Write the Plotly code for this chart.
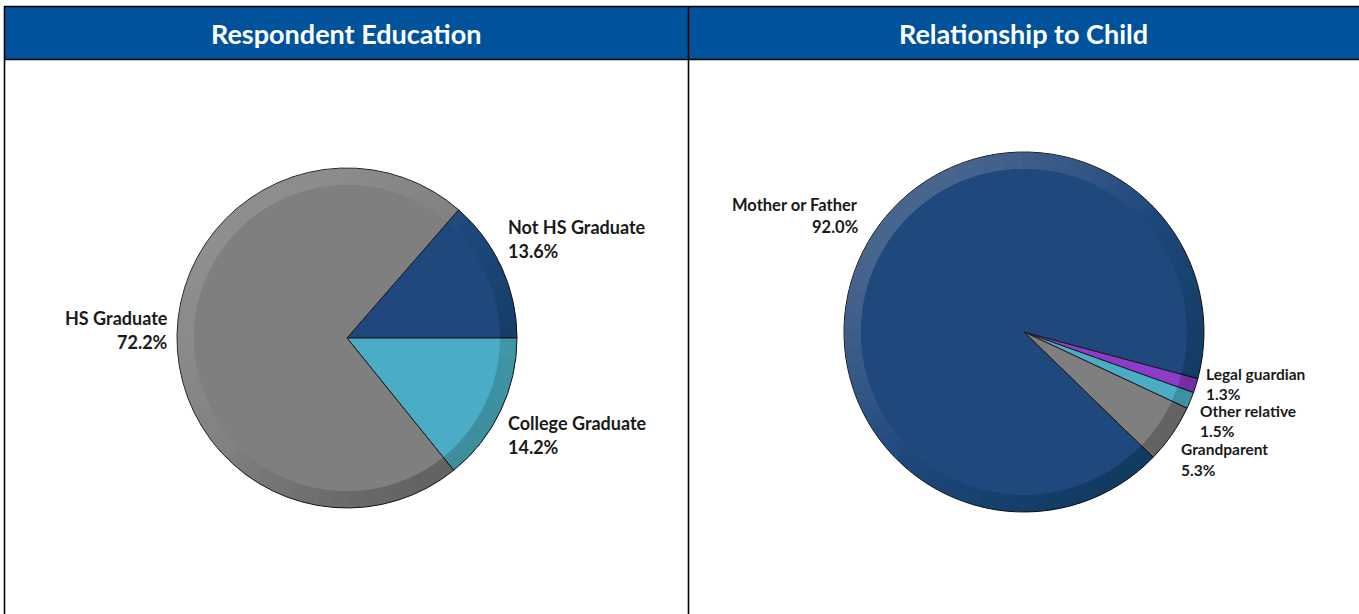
import numpy as np
import plotly.graph_objects as go

W, H = 1359, 614

# ---- data -------------------------------------------------------------
titles = ["Respondent Education", "Relationship to Child"]

edu_labels = ["Not HS Graduate", "College Graduate", "HS Graduate"]
edu_values = [13.6, 14.2, 72.2]
edu_colors = ["#1F497D", "#4BACC6", "#7F7F7F"]

rel_labels = ["Legal guardian", "Other relative", "Grandparent", "Mother or Father"]
rel_values = [1.3, 1.5, 5.3, 92.0]
rel_colors = ["#8C3CC8", "#4BACC6", "#7F7F7F", "#1F497D"]

# ---- layout helpers (pixel -> paper) ------------------------------------
def px(x):
    return x / W


def py(y):
    return 1 - y / H


HEADER_BLUE = "#00539B"
FONT = "Lato"

# pie centres / radii in pixels
pies = [
    dict(cx=347, cy=338, r=170),
    dict(cx=1024, cy=332, r=180),
]

fig = go.Figure()


def add_pie(labels, values, colors, geo, rotation):
    cx, cy, r = geo["cx"], geo["cy"], geo["r"]
    fig.add_trace(go.Pie(
        labels=labels,
        values=values,
        sort=False,
        direction="clockwise",
        rotation=rotation,
        marker=dict(colors=colors, line=dict(color="#1a1a1a", width=1)),
        textinfo="none",
        hoverinfo="label+percent",
        showlegend=False,
        domain=dict(x=[px(cx - r), px(cx + r)], y=[py(cy + r), py(cy - r)]),
    ))


# first education slice ends at 3 o'clock
edu_rot = 90 - 360 * edu_values[0] / sum(edu_values)
add_pie(edu_labels, edu_values, edu_colors, pies[0], edu_rot)
# small relationship slices start just below 3 o'clock
add_pie(rel_labels, rel_values, rel_colors, pies[1], 105)

shapes = []


def arc_band(cx, cy, r_out, r_in, a_mid, half, fill):
    """Closed annular band centred on angle a_mid (radians) with half-width half."""
    angs = np.linspace(a_mid - half, a_mid + half, max(8, int(half * 60)))
    outer = [(cx + r_out * np.cos(a), cy - r_out * np.sin(a)) for a in angs]
    inner = [(cx + r_in * np.cos(a), cy - r_in * np.sin(a)) for a in angs[::-1]]
    pts = outer + inner
    path = "M " + " L ".join(f"{px(x):.5f},{py(y):.5f}" for x, y in pts) + " Z"
    return dict(type="path", path=path, xref="paper", yref="paper",
                fillcolor=fill, line=dict(width=0), layer="above")


# bevel rim: nested translucent bands, lighter to the upper-left and
# darker to the lower-right
def rim_shapes(cx, cy, r, width=17, steps=14):
    out = []
    lit = np.deg2rad(135)
    for k in range(steps):
        half = np.arccos(k / steps)
        out.append(arc_band(cx, cy, r, r - width, lit, half,
                            f"rgba(255,255,255,{0.24 / steps:.4f})"))
        out.append(arc_band(cx, cy, r, r - width, lit + np.pi, half,
                            f"rgba(0,0,0,{0.19 / steps:.4f})"))
    return out


for g in pies:
    shapes += rim_shapes(g["cx"], g["cy"], g["r"])

# header band and frame lines
shapes.append(dict(type="rect", xref="paper", yref="paper",
                   x0=px(4), x1=1, y0=py(59.5), y1=py(6.5),
                   fillcolor=HEADER_BLUE, line=dict(width=0), layer="below"))
frame = [
    (4, 6.5, W, 6.5),
    (4, 59.5, W, 59.5),
    (4.5, 6, 4.5, H),
    (688.5, 6, 688.5, H),
]
for x0, y0, x1, y1 in frame:
    shapes.append(dict(type="line", xref="paper", yref="paper",
                       x0=px(x0), y0=py(y0), x1=px(x1), y1=py(y1),
                       line=dict(color="black", width=1.6)))

annotations = []
for title, xc in zip(titles, [346, 1023.5]):
    annotations.append(dict(text=f"<b>{title}</b>", x=px(xc), y=py(33.5),
                            xref="paper", yref="paper", showarrow=False,
                            xanchor="center", yanchor="middle",
                            font=dict(family=FONT, size=27, color="white")))

# slice labels: (x, y of first line, anchor, size, line gap)
label_pos = {
    "Not HS Graduate": (506, 227, "left", 18, 24),
    "College Graduate": (506, 423, "left", 18, 24),
    "HS Graduate": (170, 318, "right", 18, 24),
    "Mother or Father": (860, 205, "right", 16.5, 22),
    "Legal guardian": (1204, 374, "left", 15.5, 20),
    "Other relative": (1198, 411, "left", 15.5, 20),
    "Grandparent": (1179, 449, "left", 15.5, 21),
}
for labels, values in [(edu_labels, edu_values), (rel_labels, rel_values)]:
    for lab, val in zip(labels, values):
        x, y, anc, size, gap = label_pos[lab]
        for i, txt in enumerate([lab, f"{val:.1f}%"]):
            annotations.append(dict(text=f"<b>{txt}</b>", x=px(x), y=py(y + i * gap),
                                    xref="paper", yref="paper", showarrow=False,
                                    xanchor=anc, yanchor="middle",
                                    font=dict(family=FONT, size=size, color="#1a1a1a")))

fig.update_layout(
    width=W, height=H,
    margin=dict(l=0, r=0, t=0, b=0),
    paper_bgcolor="white",
    plot_bgcolor="white",
    shapes=shapes,
    annotations=annotations,
)

fig.write_html("out.html")
